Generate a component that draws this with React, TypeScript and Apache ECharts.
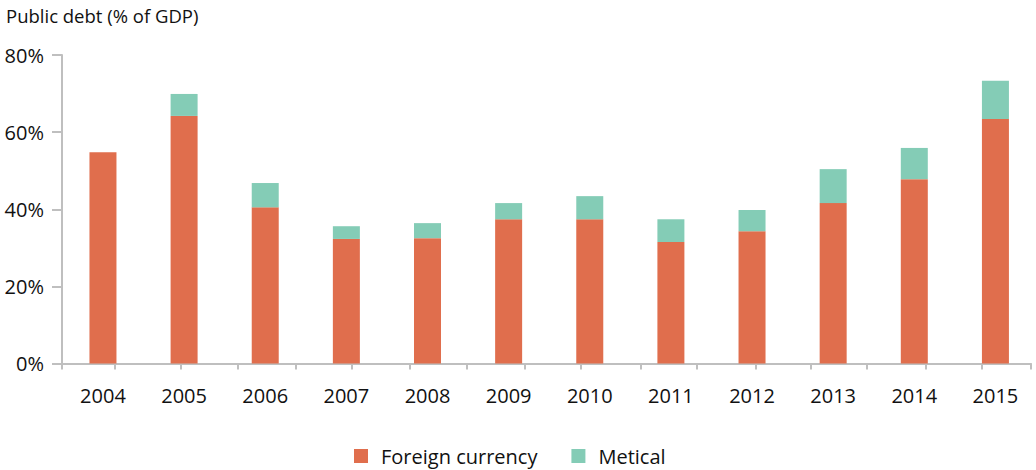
import React, { useEffect, useRef } from "react";
import * as echarts from "echarts";

const years = ["2004", "2005", "2006", "2007", "2008", "2009", "2010", "2011", "2012", "2013", "2014", "2015"];
const foreignCurrency = [54.8, 64.2, 40.5, 32.3, 32.5, 37.4, 37.4, 31.5, 34.3, 41.6, 47.8, 63.4];
const metical = [0, 5.7, 6.3, 3.3, 3.9, 4.2, 6.0, 5.9, 5.5, 8.8, 8.1, 9.9];
const yTicks = [0, 20, 40, 60, 80];
// positions of the x-axis tick marks, in category-index units
const xTickMarks = [
  -0.505, 0.14, 0.94, 1.63, 2.34, 3.02, 3.73, 4.42, 5.13, 5.81, 6.55, 7.23, 7.94, 8.62, 9.3,
  10.02, 10.7, 11.297,
];

const FONT = "'Open Sans', 'Noto Sans', sans-serif";
const AXIS = "#bfbfbf";
const TEXT = "#111";

export default function App() {
  const ref = useRef<HTMLDivElement>(null);
  useEffect(() => {
    document.body.style.margin = "0";
    const chart = echarts.init(ref.current!, null, { renderer: "svg" });
    chart.setOption({
      animation: false,
      textStyle: { fontFamily: FONT },
      title: {
        text: "Public debt (% of GDP)",
        left: 6,
        top: 6,
        padding: 0,
        textStyle: { fontFamily: FONT, fontSize: 18.5, fontWeight: "normal", color: TEXT },
      },
      legend: {
        left: 354,
        top: 446,
        padding: 0,
        icon: "rect",
        itemWidth: 14,
        itemHeight: 14,
        itemGap: 34,
        textStyle: { fontFamily: FONT, fontSize: 20, lineHeight: 20, color: TEXT, padding: [0, 0, 0, 8] },
        data: ["Foreign currency", "Metical"],
      },
      grid: [
        { left: 62.4, right: -11.6, top: 55, bottom: 106.5 },
        { left: 62, right: 5, top: 55, bottom: 106.5 },
      ],
      xAxis: [
        {
          type: "category",
          gridIndex: 0,
          data: years,
          boundaryGap: true,
          axisLine: { show: false },
          axisTick: { show: false },
          axisLabel: { margin: 22, fontSize: 20, color: TEXT, fontFamily: FONT, interval: 0 },
        },
        {
          type: "value",
          gridIndex: 1,
          min: xTickMarks[0],
          max: xTickMarks[xTickMarks.length - 1],
          splitLine: { show: false },
          axisLine: { show: true, onZero: false, lineStyle: { color: AXIS, width: 2 } },
          axisTick: {
            show: true,
            customValues: xTickMarks,
            length: 6,
            lineStyle: { color: AXIS, width: 2 },
          },
          axisLabel: { show: false },
        },
      ],
      yAxis: [
        {
          type: "value",
          gridIndex: 0,
          min: yTicks[0],
          max: yTicks[yTicks.length - 1],
          interval: 20,
          show: false,
          splitLine: { show: false },
        },
        {
          type: "value",
          gridIndex: 1,
          min: yTicks[0],
          max: yTicks[yTicks.length - 1],
          interval: 20,
          splitLine: { show: false },
          axisLine: { show: true, onZero: false, lineStyle: { color: AXIS, width: 2 } },
          axisTick: { show: true, inside: false, length: 10, lineStyle: { color: AXIS, width: 2 } },
          axisLabel: {
            formatter: (v: number) => v + "%",
            margin: 18,
            fontSize: 20,
            color: TEXT,
            fontFamily: FONT,
          },
        },
      ],
      series: [
        {
          name: "Foreign currency",
          type: "bar",
          stack: "debt",
          xAxisIndex: 0,
          yAxisIndex: 0,
          barWidth: 27,
          itemStyle: { color: "#E06E4D" },
          data: foreignCurrency,
        },
        {
          name: "Metical",
          type: "bar",
          stack: "debt",
          xAxisIndex: 0,
          yAxisIndex: 0,
          barWidth: 27,
          itemStyle: { color: "#84CCB6" },
          data: metical,
        },
      ],
    });
    return () => chart.dispose();
  }, []);
  return <div ref={ref} style={{ width: 1036, height: 470 }} />;
}
